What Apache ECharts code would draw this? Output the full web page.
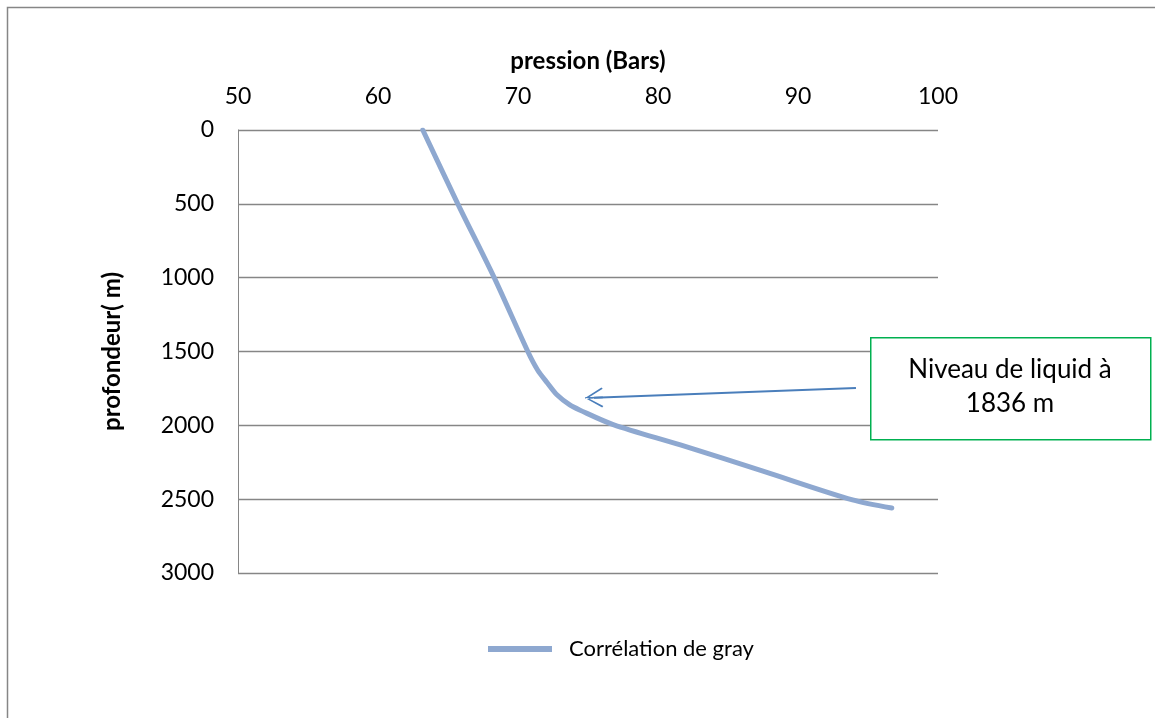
<!DOCTYPE html>
<html>
<head>
<meta charset="utf-8">
<script src="https://cdn.jsdelivr.net/npm/echarts@6/dist/echarts.min.js"></script>
<style>
html,body{margin:0;padding:0;background:#fff;}
#c{width:1155px;height:718px;}
</style>
</head>
<body>
<div id="c"></div>
<script>
// Data
const seriesName = 'Corrélation de gray';
const pression = [63.2, 65.7, 68.3, 70.7, 71.4, 72.1, 72.8, 73.7, 74.4, 76.8, 81.6, 87.5, 93.9, 96.7];
const profondeur = [0, 500, 1000, 1500, 1625, 1713, 1795, 1862, 1896, 1995, 2133, 2310, 2505, 2560];
const xTicks = [50, 60, 70, 80, 90, 100];
const yTicks = [0, 500, 1000, 1500, 2000, 2500, 3000];
const annotationText = ['Niveau de liquid à', '1836 m'];
const arrowFrom = [94.14, 1747];
const arrowTo = [75.43, 1813];

const font = 'Lato, "Open Sans", sans-serif';
const chart = echarts.init(document.getElementById('c'));
const points = pression.map((p, i) => [p, profondeur[i]]);

chart.setOption({
  animation: false,
  backgroundColor: '#fff',
  textStyle: { fontFamily: font, color: '#000' },
  grid: { left: 238, top: 130, width: 700, height: 443, containLabel: false },
  xAxis: {
    type: 'value', position: 'top',
    min: xTicks[0], max: xTicks[xTicks.length - 1], interval: 10,
    name: 'pression (Bars)', nameLocation: 'middle', nameGap: 57,
    nameTextStyle: { fontFamily: font, fontSize: 24, fontWeight: 'bold', color: '#000' },
    axisLine: { show: false }, axisTick: { show: false },
    axisLabel: { fontFamily: font, fontSize: 23, color: '#000', margin: 22 },
    splitLine: { show: false }
  },
  yAxis: {
    type: 'value', inverse: true,
    min: yTicks[0], max: yTicks[yTicks.length - 1], interval: 500,
    name: 'profondeur( m)', nameLocation: 'middle', nameGap: 114,
    nameTextStyle: { fontFamily: font, fontSize: 24, fontWeight: 'bold', color: '#000' },
    axisLine: { show: true, lineStyle: { color: '#868686', width: 1 } },
    axisTick: { show: false },
    axisLabel: { fontFamily: font, fontSize: 23, color: '#000', margin: 24, formatter: v => String(v) },
    splitLine: { show: true, lineStyle: { color: '#868686', width: 1.3 } }
  },
  legend: {
    left: 483, top: 633,
    icon: 'rect', itemWidth: 64, itemHeight: 6,
    textStyle: { fontFamily: font, fontSize: 22, color: '#000', padding: [0, 0, 0, 12] },
    data: [seriesName]
  },
  series: [{
    name: seriesName, type: 'line', data: points, smooth: 0.3,
    showSymbol: false, symbol: 'none',
    lineStyle: { color: '#8EA8D0', width: 5, cap: 'round' },
    itemStyle: { color: '#8EA8D0' },
    markLine: {
      silent: true, animation: false,
      symbol: ['none', 'path://M9.2,0 L10.8,0 L10.8,18 L9.2,18 Z M10,0 L0,17 L1.4,18.2 L10,3 Z M10,0 L20,17 L18.6,18.2 L10,3 Z'],
      symbolSize: [20, 18],
      lineStyle: { color: '#4A7EBB', width: 2, type: 'solid' },
      label: { show: false },
      data: [[{ coord: arrowFrom }, { coord: arrowTo }]]
    }
  }],
  graphic: [
    { type: 'rect', left: 5, top: 5, shape: { width: 1200, height: 800 }, style: { fill: 'none', stroke: '#868686', lineWidth: 1.5 }, silent: true },
    { type: 'rect', left: 870, top: 337, shape: { width: 280, height: 102 }, style: { fill: '#fff', stroke: '#00B050', lineWidth: 1.5 }, z: 10 },
    { type: 'text', x: 1010, y: 370, style: { text: annotationText[0], font: '26px ' + font, fill: '#000', textAlign: 'center', textVerticalAlign: 'middle' }, z: 11 },
    { type: 'text', x: 1010, y: 404, style: { text: annotationText[1], font: '26px ' + font, fill: '#000', textAlign: 'center', textVerticalAlign: 'middle' }, z: 11 }
  ]
});
</script>
</body>
</html>
